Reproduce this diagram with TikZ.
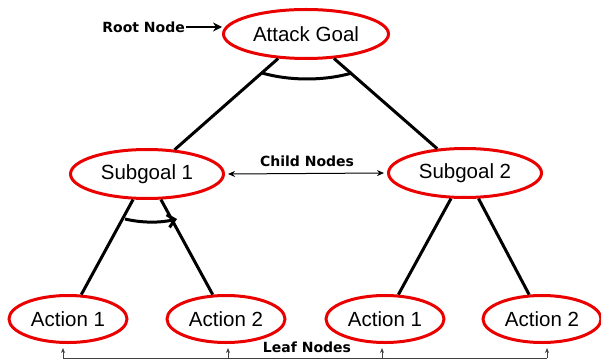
\documentclass[tikz,border=0pt]{standalone}
\usepackage{fontspec}
\usetikzlibrary{arrows.meta,shapes.geometric}
\newfontfamily\nodefont{Liberation Sans}
\newfontfamily\tagfont{DejaVu Sans}
\definecolor{goalred}{RGB}{235,0,0}
\tikzset{
  goal/.style={ellipse, draw=goalred, line width=3pt, fill=white, inner sep=0pt,
    font=\nodefont\fontsize{20.5}{24}\selectfont},
  topgoal/.style={goal, minimum width=165pt, minimum height=49pt},
  subgoal/.style={goal, minimum width=153pt, minimum height=49pt},
  action/.style={goal, minimum width=118pt, minimum height=47pt},
  edge/.style={line width=3pt},
  tag/.style={font=\tagfont\bfseries\fontsize{14}{16}\selectfont, inner sep=0pt},
  pointer/.style={line width=1.2pt, -{Stealth[length=9pt,width=9pt]}},
  leafline/.style={line width=1pt, draw=black!75},
  leafarrow/.style={leafline, -{Stealth[length=5pt,width=4pt]}}
}
\begin{document}
\begin{tikzpicture}[x=1pt,y=-1pt]
\useasboundingbox (0,0) rectangle (601,363);

% tree nodes
\node[topgoal] (ag) at (306,34) {Attack Goal};
\node[subgoal] (sg1) at (147,174) {Subgoal 1};
\node[subgoal] (sg2) at (465,173) {Subgoal 2};
\node[action] (a11) at (68,319) {Action 1};
\node[action] (a12) at (226,319) {Action 2};
\node[action] (a21) at (385,319) {Action 1};
\node[action] (a22) at (542,319) {Action 2};

% tree edges
\draw[edge] (ag) -- (sg1);
\draw[edge] (ag) -- (sg2);
\draw[edge] (sg1) -- (a11);
\draw[edge] (sg1) -- (a12);
\draw[edge] (sg2) -- (a21);
\draw[edge] (sg2) -- (a22);

% AND arc under the root, sequence arc under subgoal 1
\coordinate (andL) at (262,73);
\coordinate (andR) at (352,73);
\draw[edge] (andL) .. controls (290,81) and (324,81) .. (andR);
\coordinate (seqL) at (125,219);
\coordinate (seqR) at (177,219);
\draw[line width=3pt, -{Straight Barb[length=7pt,width=13pt,line width=3pt]}]
  (seqL) .. controls (142,223) and (160,223) .. (seqR);

% Root Node label
\node[tag, anchor=east] (rootlbl) at (185,27) {Root Node};
\draw[pointer] (rootlbl.east) ++(1,0) coordinate (rootstart) -- (ag.west |- rootstart);

% Child Nodes label and double arrow
\node[tag] (childlbl) at (307,161) {Child Nodes};
\draw[line width=1pt, {Stealth[length=7pt,width=6pt]}-{Stealth[length=7pt,width=6pt]}]
  ([xshift=3pt]sg1.east) -- ([xshift=-3pt]sg2.west);

% Leaf Nodes label and bracket
\node[tag] (leaflbl) at (307,347) {Leaf Nodes};
\coordinate (b1) at (63,358);
\coordinate (b2) at (228,358);
\coordinate (b3) at (382,358);
\coordinate (b4) at (547,358);
\draw[leafline] (b1) -- (b4);
\draw[leafarrow] (b1) -- ++(0,-10);
\draw[leafarrow] (b2) -- ++(0,-10);
\draw[leafarrow] (b3) -- ++(0,-10);
\draw[leafarrow] (b4) -- ++(0,-10);
\end{tikzpicture}
\end{document}
